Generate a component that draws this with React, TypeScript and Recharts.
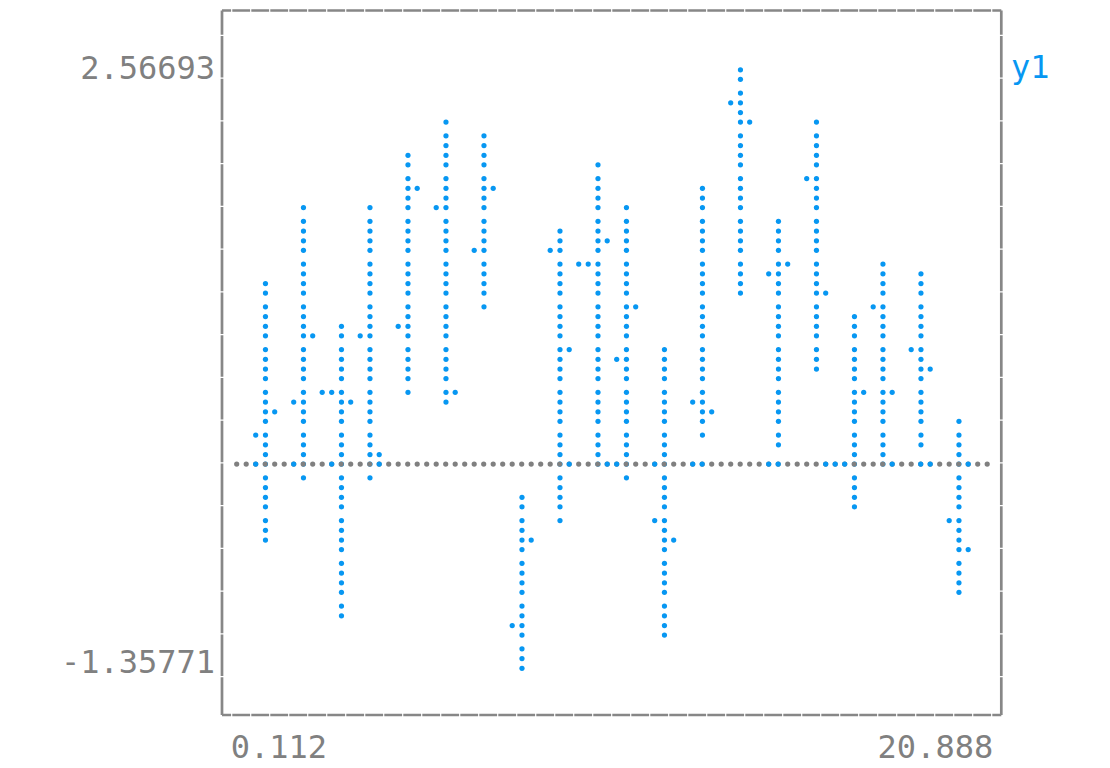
import React from 'react';
import { ComposedChart, Bar, Scatter, XAxis, YAxis, ReferenceLine, Legend } from 'recharts';

const FONT = '"DejaVu Sans Mono", monospace';
const BLUE = '#0797f2';
const GREY = '#808080';
const FRAME = '#878787';
const DOT_R = 2.6;

// value range of the canvas and the braille row pitch
const Y_TOP = 2.56693;
const Y_BOTTOM = -1.35771;
const X_FIRST = 0.112;
const X_LAST = 20.888;
const ROWS = 56;
const STEP = (Y_TOP - Y_BOTTOM) / ROWS;
// braille glyph dots are not evenly spaced inside a cell (row units)
const CELL_SHIFT = [0.175, 0.088, 0, -0.111];

const xTickValues = [X_FIRST, X_LAST];
const xTickLabels = ['0.112', '20.888'];
const yTickValues = [Y_BOTTOM, Y_TOP];
const yTickLabels = ['-1.35771', '2.56693'];

// vertical strokes: x position, lowest and highest value
const stemX = [0.901, 1.953, 3.005, 3.794, 4.846, 5.898, 6.95, 8.002, 9.054, 10.106,
  10.894, 11.946, 12.998, 14.05, 15.102, 16.154, 17.206, 17.995, 19.047, 20.099];
const stemHigh = [1.165, 1.656, 0.885, 1.656, 2.006, 2.217, 2.146, -0.236, 1.516, 1.936,
  1.656, 0.745, 1.796, 2.567, 1.586, 2.217, 0.955, 1.305, 1.235, 0.254];
const stemLow = [-0.517, -0.096, -1.007, -0.096, 0.464, 0.394, 1.025, -1.358, -0.377, 0.0,
  -0.096, -1.147, 0.184, 1.095, 0.114, 0.605, -0.306, 0.0, 0.114, -0.867];

// single dots beside the strokes
const sideX = [0.638, 1.164, 2.216, 1.69, 2.479, 2.742, 3.268, 3.531, 4.057, 5.109,
  4.583, 5.635, 6.161, 7.213, 6.687, 8.265, 7.739, 8.791, 9.317, 9.58,
  9.843, 10.369, 11.157, 10.631, 11.683, 12.209, 13.261, 12.735, 13.787, 14.313,
  14.839, 15.365, 15.891, 16.417, 17.469, 17.732, 18.258, 18.784, 19.31, 19.836, 20.362];
const sideY = [0.184, 0.324, 0.815, 0.394, 0.464, 0.464, 0.394, 0.815, 0.044, 1.796,
  0.885, 1.656, 0.464, 1.796, 1.376, -0.517, -1.077, 1.376, 0.745, 1.305,
  1.305, 1.446, 1.025, 0.675, -0.377, -0.517, 0.324, 0.394, 2.357, 2.217,
  1.235, 1.305, 1.866, 1.095, 0.464, 1.025, 0.464, 0.745, 0.605, -0.377, -0.587];

// blue dots lying on the zero line
const zeroX = [0.638, 1.69, 2.742, 4.057, 9.317, 10.369, 10.631, 11.683, 12.735, 12.998,
  14.839, 15.102, 16.417, 16.68, 16.943, 18.258, 19.047, 19.31, 20.362];

const stems = stemX.map((x, i) => ({ x, range: [stemLow[i], stemHigh[i]] }));
const dots = [
  ...sideX.map((x, i) => ({ x, y: sideY[i] })),
  ...zeroX.map((x) => ({ x, y: 0 })),
];

const W = 1110;
const H = 768;
const M_TOP = 10.5;
const M_RIGHT = 108.7;
const AXIS_W = 222;
const AXIS_H = 53;
const Y_DOMAIN = [-1.66394, 2.95579];
const X_DOMAIN = [-0.29493, 21.27832];
const PPU_Y = (H - M_TOP - AXIS_H) / (Y_DOMAIN[1] - Y_DOMAIN[0]);

const brailleShift = (v: number, ppu: number) => {
  const kf = (Y_TOP - v) / STEP;
  const k = Math.round(kf);
  const j = (((k + 2) % 4) + 4) % 4;
  return (k - kf + CELL_SHIFT[j]) * STEP * ppu;
};

const StemDots = (props: any) => {
  const { x, y, width, height, payload } = props;
  const [lo, hi] = payload.range;
  const top = height >= 0 ? y : y + height;
  const ppu = Math.abs(height) / (hi - lo);
  const cx = x + width / 2;
  const kHi = Math.round((Y_TOP - hi) / STEP);
  const kLo = Math.round((Y_TOP - lo) / STEP);
  const out = [];
  for (let k = kHi; k <= kLo; k++) {
    const v = Y_TOP - k * STEP;
    const cy = top + (hi - v) * ppu + brailleShift(v, ppu);
    out.push(<circle key={k} cx={cx} cy={cy} r={DOT_R} fill={BLUE} />);
  }
  return <g>{out}</g>;
};

const SideDot = (props: any) => {
  const { cx, cy, payload } = props;
  return <circle cx={cx} cy={cy + brailleShift(payload.y, PPU_Y)} r={DOT_R} fill={BLUE} />;
};

const ZeroLine = (props: any) => {
  const dy = brailleShift(0, PPU_Y);
  return (
    <line x1={props.x1} y1={props.y1 + dy} x2={props.x2} y2={props.y2 + dy}
      stroke={GREY} strokeWidth={DOT_R * 2} strokeLinecap="round" strokeDasharray="0 9.5" />
  );
};

const XTick = (props: any) => {
  const i = xTickValues.indexOf(props.payload.value);
  const first = i === 0;
  return (
    <text x={props.x + (first ? -6 : 6)} y={H - 10} textAnchor={first ? 'start' : 'end'}
      fill={GREY} fontSize={32} fontFamily={FONT}>
      {xTickLabels[i]}
    </text>
  );
};

const YTick = (props: any) => {
  const i = yTickValues.indexOf(props.payload.value);
  return (
    <text x={AXIS_W - 7} y={props.y + (i === 1 ? 8.7 : 5)} textAnchor="end"
      fill={GREY} fontSize={32} fontFamily={FONT}>
      {yTickLabels[i]}
    </text>
  );
};

const frame = { stroke: FRAME, strokeWidth: 2.7, ifOverflow: 'visible' as const };

export default function App() {
  return (
    <div style={{ position: 'absolute', left: 0, top: 0, width: W, height: H, background: '#fff' }}>
      <ComposedChart width={W} height={H} data={stems}
        margin={{ top: M_TOP, right: M_RIGHT, bottom: 0, left: 0 }}>
        <XAxis type="number" dataKey="x" domain={X_DOMAIN} ticks={xTickValues} allowDataOverflow
          axisLine={false} tickLine={false} height={AXIS_H} tick={<XTick />} interval={0} />
        <YAxis type="number" domain={Y_DOMAIN} ticks={yTickValues} allowDataOverflow
          axisLine={false} tickLine={false} width={AXIS_W} tick={<YTick />} interval={0} />
        <ReferenceLine segment={[{ x: X_FIRST, y: 0 }, { x: X_LAST, y: 0 }]} shape={<ZeroLine />} ifOverflow="visible" />
        <Bar dataKey="range" barSize={4} shape={<StemDots />} isAnimationActive={false} />
        <Scatter data={dots} dataKey="y" shape={<SideDot />} isAnimationActive={false} />
        <ReferenceLine {...frame} segment={[{ x: X_DOMAIN[0], y: Y_DOMAIN[1] }, { x: X_DOMAIN[1], y: Y_DOMAIN[1] }]}
          strokeDasharray="17.8 1.2" strokeDashoffset={8.7} />
        <ReferenceLine {...frame} segment={[{ x: X_DOMAIN[0], y: Y_DOMAIN[0] }, { x: X_DOMAIN[1], y: Y_DOMAIN[0] }]}
          strokeDasharray="17.8 1.2" strokeDashoffset={8.7} />
        <ReferenceLine {...frame} segment={[{ x: X_DOMAIN[0], y: Y_DOMAIN[1] }, { x: X_DOMAIN[0], y: Y_DOMAIN[0] }]}
          strokeDasharray="41.55 1.2" strokeDashoffset={17.35} />
        <ReferenceLine {...frame} segment={[{ x: X_DOMAIN[1], y: Y_DOMAIN[1] }, { x: X_DOMAIN[1], y: Y_DOMAIN[0] }]}
          strokeDasharray="41.55 1.2" strokeDashoffset={17.35} />
        <Legend layout="horizontal" verticalAlign="middle" align="center"
          wrapperStyle={{ position: 'absolute', left: 1011, top: 48, width: 'auto', height: 'auto' }}
          content={() => (
            <div style={{ fontFamily: FONT, fontSize: 32, color: BLUE, lineHeight: '38px' }}>y1</div>
          )} />
      </ComposedChart>
    </div>
  );
}
